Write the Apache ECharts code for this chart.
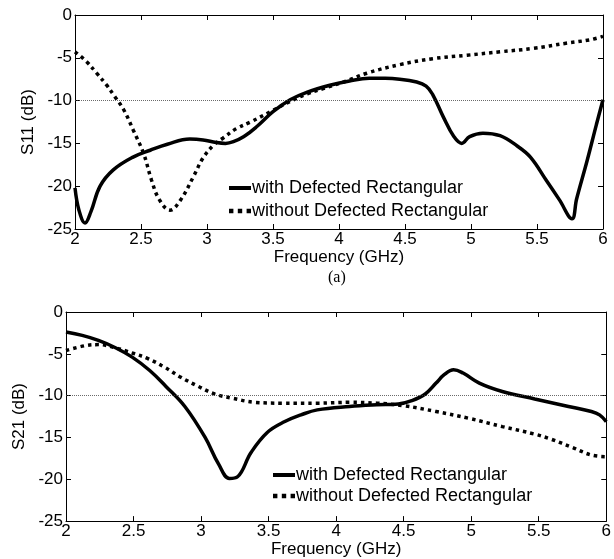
<!DOCTYPE html>
<html>
<head>
<meta charset="utf-8">
<script src="https://cdn.jsdelivr.net/npm/echarts@6/dist/echarts.min.js"></script>
<style>
  html, body { margin: 0; padding: 0; background: #fff; }
  #chart { width: 614px; height: 559px; }
</style>
</head>
<body>
<div id="chart"></div>
<script>
// S11 (top panel)
var s11WithFreq = [2.00, 2.03, 2.076, 2.12, 2.19, 2.29, 2.44, 2.57, 2.70, 2.87, 2.97, 3.07, 3.14, 3.20, 3.28, 3.38, 3.50, 3.63, 3.76, 3.93, 4.08, 4.23, 4.35, 4.46, 4.58, 4.66, 4.71, 4.79, 4.87, 4.93, 4.99, 5.09, 5.22, 5.35, 5.45, 5.57, 5.67, 5.765, 5.80, 5.88, 5.95, 6.00];
var s11With = [-20.2, -22.8, -24.3, -23.0, -20.0, -18.1, -16.6, -15.8, -15.1, -14.5, -14.6, -14.9, -15.0, -14.8, -14.2, -13.0, -11.3, -9.9, -9.0, -8.2, -7.7, -7.4, -7.4, -7.5, -7.8, -8.3, -9.3, -11.9, -14.2, -15.0, -14.2, -13.8, -14.1, -15.3, -16.6, -19.3, -21.6, -23.8, -21.5, -17.0, -12.8, -9.9];
var s11WithoutFreq = [2.00, 2.088, 2.164, 2.24, 2.30, 2.37, 2.44, 2.52, 2.58, 2.64, 2.72, 2.80, 2.90, 2.97, 3.05, 3.12, 3.22, 3.33, 3.48, 3.63, 3.76, 3.88, 4.04, 4.21, 4.46, 4.71, 4.97, 5.22, 5.47, 5.72, 5.90, 6.00];
var s11Without = [-4.3, -5.45, -6.8, -8.2, -9.5, -11.1, -13.4, -16.2, -19.3, -21.6, -22.8, -21.6, -18.8, -16.7, -15.2, -14.4, -13.3, -12.5, -11.3, -10.1, -9.2, -8.6, -7.8, -6.8, -5.8, -5.1, -4.7, -4.3, -3.9, -3.3, -2.9, -2.5];

// S21 (bottom panel)
var s21WithFreq = [2.00, 2.12, 2.24, 2.37, 2.49, 2.62, 2.74, 2.88, 3.03, 3.13, 3.21, 3.27, 3.37, 3.49, 3.62, 3.74, 3.86, 4.10, 4.30, 4.46, 4.56, 4.66, 4.74, 4.80, 4.87, 4.94, 5.06, 5.23, 5.47, 5.72, 5.89, 5.95, 6.00];
var s21With = [-2.4, -2.8, -3.4, -4.3, -5.4, -7.0, -8.9, -11.3, -15.0, -18.2, -19.9, -19.7, -16.8, -14.4, -13.1, -12.3, -11.7, -11.3, -11.1, -11.0, -10.6, -9.8, -8.5, -7.5, -6.9, -7.3, -8.5, -9.5, -10.4, -11.3, -11.9, -12.3, -13.1];
var s21WithoutFreq = [2.00, 2.15, 2.24, 2.37, 2.49, 2.61, 2.73, 2.85, 2.98, 3.10, 3.23, 3.40, 3.60, 3.86, 4.10, 4.30, 4.50, 4.74, 4.98, 5.23, 5.47, 5.59, 5.75, 5.89, 6.00];
var s21Without = [-4.6, -4.0, -3.9, -4.3, -4.9, -5.6, -6.6, -7.8, -8.9, -9.8, -10.3, -10.8, -10.9, -10.9, -10.8, -10.9, -11.2, -11.9, -12.7, -13.7, -14.6, -15.2, -16.2, -17.1, -17.3];

var xTicks = { min: 2, max: 6, interval: 0.5 };
var yTicks = { min: -25, max: 0, interval: 5 };
var refLevel = -10;
var nameWith = 'with Defected Rectangular';
var nameWithout = 'without Defected Rectangular';

function pairs(xs, ys) {
    return xs.map(function (x, i) { return [x, ys[i]]; });
}

var font = 'Arial, "Liberation Sans", sans-serif';
var black = '#000';

function xAxisFor(gridIndex, pos, withLabels, labelGap) {
    return {
        type: 'value', gridIndex: gridIndex, position: pos,
        min: xTicks.min, max: xTicks.max, interval: xTicks.interval,
        name: withLabels ? 'Frequency (GHz)' : '',
        nameLocation: 'middle', nameGap: labelGap,
        nameTextStyle: { color: black, fontSize: 17, fontFamily: font },
        axisLine: { show: true, onZero: false, lineStyle: { color: black, width: 1 } },
        axisTick: { show: true, inside: true, length: 5, lineStyle: { color: black } },
        axisLabel: { show: withLabels, margin: 2, color: black, fontSize: 17, fontFamily: font },
        splitLine: { show: false }
    };
}

function yAxisFor(gridIndex, pos, title, nameGap) {
    return {
        type: 'value', gridIndex: gridIndex, position: pos,
        min: yTicks.min, max: yTicks.max, interval: yTicks.interval,
        name: title || '', nameLocation: 'middle', nameGap: nameGap, nameRotate: 90,
        nameTextStyle: { color: black, fontSize: 17, fontFamily: font },
        axisLine: { show: true, onZero: false, lineStyle: { color: black, width: 1 } },
        axisTick: { show: true, inside: true, length: 5, lineStyle: { color: black } },
        axisLabel: { show: !!title, margin: 3, color: black, fontSize: 17, fontFamily: font },
        splitLine: { show: false }
    };
}

function lineSeries(name, data, axisIdx, dotted, withRef) {
    var s = {
        name: name, type: 'line', xAxisIndex: axisIdx, yAxisIndex: axisIdx,
        data: data, symbol: 'none', smooth: 0.4, silent: true,
        lineStyle: dotted
            ? { color: black, width: 3.5, type: [3.5, 4], cap: 'butt' }
            : { color: black, width: 3.5 },
        itemStyle: { color: black }
    };
    if (withRef) {
        s.markLine = {
            silent: true, symbol: 'none', label: { show: false },
            lineStyle: { color: '#444', width: 0.8, type: [1, 1] },
            data: [{ yAxis: refLevel }]
        };
    }
    return s;
}

// plain bar for the solid entry, three squares for the dotted one
var iconSolid = 'path://M0,0h22v4h-22z';
var iconDotted = 'path://M0,0h4v4h-4z M8,0h4v4h-4z M16,0h4v4h-4z';

function legendAt(left, top, gap) {
    return {
        orient: 'vertical', left: left, top: top, itemGap: gap,
        itemWidth: 22, itemHeight: 14, padding: 0,
        selectedMode: false,
        itemStyle: { color: black, borderWidth: 0 },
        textStyle: { color: black, fontSize: 18, fontFamily: font, padding: [0, 0, 0, -4] },
        data: [
            { name: nameWith, icon: iconSolid },
            { name: nameWithout, icon: iconDotted }
        ]
    };
}

var chart = echarts.init(document.getElementById('chart'), null, { renderer: 'canvas' });

var option = {
    animation: false,
    backgroundColor: '#fff',
    grid: [
        { left: 75, top: 15, width: 528, height: 214 },
        { left: 66, top: 312, width: 546, height: 210 }
    ],
    xAxis: [
        xAxisFor(0, 'bottom', true, 18),
        xAxisFor(1, 'bottom', true, 13),
        xAxisFor(0, 'top', false, 0),
        xAxisFor(1, 'top', false, 0)
    ],
    yAxis: [
        yAxisFor(0, 'left', 'S11 (dB)', 35),
        yAxisFor(1, 'left', 'S21 (dB)', 36),
        yAxisFor(0, 'right', '', 0),
        yAxisFor(1, 'right', '', 0)
    ],
    legend: [
        legendAt(229, 179, 5),
        legendAt(273, 466, 3)
    ],
    graphic: [{
        type: 'text', left: 328, top: 270,
        style: { text: '(a)', font: '16px "Liberation Serif", "Times New Roman", serif', fill: black }
    }],
    series: [
        lineSeries(nameWith, pairs(s11WithFreq, s11With), 0, false, true),
        lineSeries(nameWithout, pairs(s11WithoutFreq, s11Without), 0, true, false),
        lineSeries(nameWith, pairs(s21WithFreq, s21With), 1, false, true),
        lineSeries(nameWithout, pairs(s21WithoutFreq, s21Without), 1, true, false)
    ]
};

chart.setOption(option);
</script>
</body>
</html>
